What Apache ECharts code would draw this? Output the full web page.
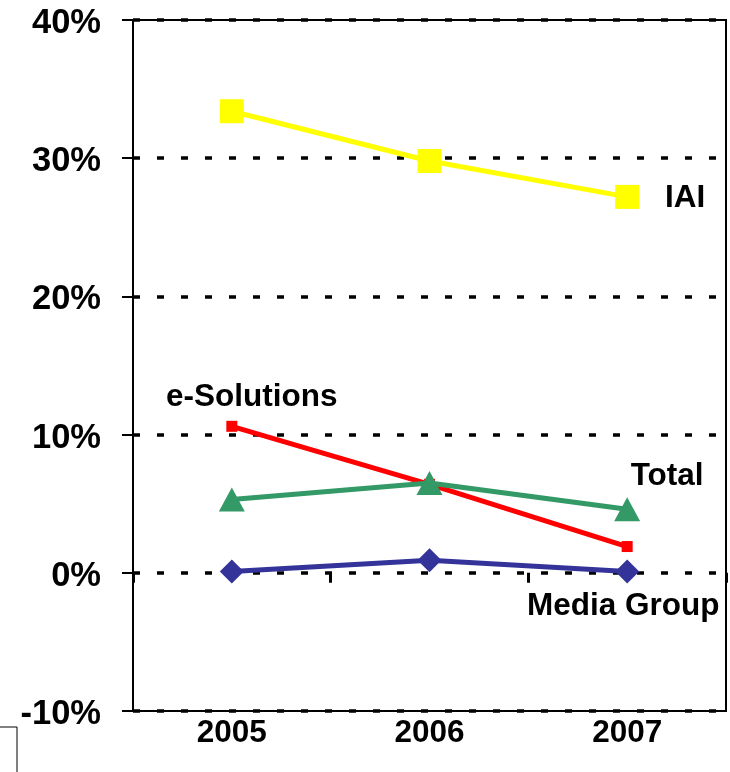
<!DOCTYPE html>
<html>
<head>
<meta charset="utf-8">
<script src="https://cdn.jsdelivr.net/npm/echarts@6/dist/echarts.min.js"></script>
<style>
  html, body { margin: 0; padding: 0; background: #fff; }
  #chart { width: 730px; height: 772px; }
</style>
</head>
<body>
<div id="chart"></div>
<script>
// years on the x axis
const years = ['2005', '2006', '2007']
// margin values in percent
const iai = [33.4, 29.8, 27.2]
const eSolutions = [10.6, 6.4, 1.9]
const total = [5.3, 6.5, 4.6]
const mediaGroup = [0.1, 0.9, 0.1]

const font = '"Liberation Sans", Arial, sans-serif'

// put a name label next to one point of a series
function withLabel(values, index, text, offset) {
  return values.map((v, i) => {
    if (i !== index) return v
    return {
      value: v,
      label: {
        show: true,
        formatter: text,
        position: 'inside',
        offset: offset,
        align: 'center',
        verticalAlign: 'middle',
        color: '#000',
        fontFamily: font,
        fontWeight: 'bold',
        fontSize: 31.5
      }
    }
  })
}

const chart = echarts.init(document.getElementById('chart'), null, { renderer: 'canvas' })

const option = {
  animation: false,
  backgroundColor: '#fff',
  grid: {
    left: 133, right: 4, top: 20, bottom: 61,
    show: true,
    borderColor: '#000',
    borderWidth: 2,
    backgroundColor: 'transparent'
  },
  xAxis: [
    {
      type: 'category',
      data: years,
      position: 'bottom',
      boundaryGap: true,
      axisLine: { onZero: false, lineStyle: { color: '#000', width: 2 } },
      axisTick: { show: false },
      axisLabel: {
        margin: 6,
        color: '#000',
        fontFamily: font,
        fontWeight: 'bold',
        fontSize: 31.5
      },
      splitLine: { show: false }
    },
    {
      // only the little ticks sitting on the 0% line
      type: 'category',
      data: years,
      position: 'top',
      boundaryGap: true,
      axisLine: { show: false, onZero: true },
      axisTick: { show: true, inside: true, length: 10, lineStyle: { color: '#000', width: 3 } },
      axisLabel: { show: false },
      splitLine: { show: false }
    }
  ],
  yAxis: {
    type: 'value',
    min: -10,
    max: 40,
    interval: 10,
    axisLine: { show: true, lineStyle: { color: '#000', width: 2 } },
    axisTick: { show: true, length: 11, lineStyle: { color: '#000', width: 2 } },
    axisLabel: {
      margin: 32,
      formatter: '{v|{value}%}',
      rich: {
        v: {
          padding: [7, 0, 0, 0],
          color: '#000',
          fontFamily: font,
          fontWeight: 'bold',
          fontSize: 34.5
        }
      }
    },
    splitLine: {
      show: true,
      lineStyle: { color: '#000', width: 3.5, type: [7, 17] }
    }
  },
  series: [
    {
      name: 'IAI',
      type: 'line',
      data: withLabel(iai, 2, 'IAI', [58, 1]),
      symbol: 'rect',
      symbolSize: 24,
      lineStyle: { color: '#FFFF00', width: 5 },
      itemStyle: { color: '#FFFF00' }
    },
    {
      name: 'e-Solutions',
      type: 'line',
      data: withLabel(eSolutions, 0, 'e-Solutions', [20, -29]),
      symbol: 'rect',
      symbolSize: 11,
      lineStyle: { color: '#FF0000', width: 5 },
      itemStyle: { color: '#FF0000' }
    },
    {
      name: 'Total',
      type: 'line',
      data: withLabel(total, 2, 'Total', [40, -33]),
      symbol: 'triangle',
      symbolSize: [26, 24],
      lineStyle: { color: '#339966', width: 5 },
      itemStyle: { color: '#339966' }
    },
    {
      name: 'Media Group',
      type: 'line',
      data: withLabel(mediaGroup, 2, 'Media Group', [-4, 35]),
      symbol: 'diamond',
      symbolSize: 24,
      lineStyle: { color: '#333399', width: 5 },
      itemStyle: { color: '#333399' }
    }
  ],
  graphic: [
    {
      type: 'polyline',
      shape: { points: [[0, 727], [17, 727], [17, 772]] },
      style: { stroke: '#000', lineWidth: 1, fill: null }
    }
  ]
}

chart.setOption(option)
</script>
</body>
</html>
